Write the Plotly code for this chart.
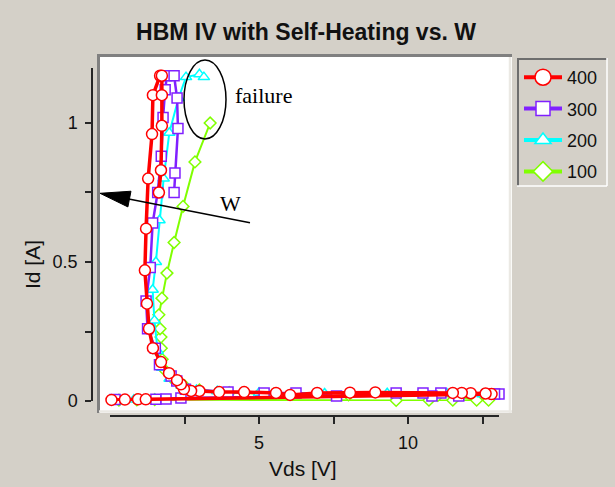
import plotly.graph_objects as go

# ---------------- data ----------------
V_400 = [0.05, 0.5, 0.94, 1.2, 12.8, 12.6, 12.1, 11.8, 11.5, 8.9, 8.05, 6.95, 6.04, 5.57,
         4.5, 3.66, 3.0, 2.72, 2.48, 2.38, 2.25, 1.98, 1.71, 1.44, 1.31, 1.24, 1.17, 1.21,
         1.28, 1.41, 1.44, 1.68, 1.74, 1.74, 1.74, 1.71, 1.64]
I_400 = [0.004, 0.005, 0.006, 0.006, 0.025, 0.027, 0.028, 0.029, 0.029, 0.031, 0.030, 0.029,
         0.022, 0.029, 0.032, 0.032, 0.036, 0.036, 0.043, 0.06, 0.075, 0.10, 0.14, 0.19, 0.26,
         0.35, 0.47, 0.62, 0.80, 0.96, 1.10, 1.17, 1.17, 1.10, 0.99, 0.83, 0.75]

V_300 = [0.17, 1.54, 1.88, 2.38, 13.05, 12.9, 11.7, 11.1, 10.8, 10.5, 9.6, 7.6, 6.24, 5.17,
         3.96, 2.53, 2.24, 2.05, 1.66, 1.52, 1.26, 1.21, 1.35, 1.43, 1.6, 1.72, 1.78, 1.85,
         1.91, 2.15, 2.25, 2.28, 2.18, 2.15]
I_300 = [0.005, 0.006, 0.007, 0.011, 0.025, 0.025, 0.018, 0.029, 0.018, 0.029, 0.029, 0.018,
         0.029, 0.029, 0.032, 0.042, 0.072, 0.09, 0.13, 0.19, 0.26, 0.36, 0.48, 0.64, 0.75,
         0.88, 1.02, 1.12, 1.17, 1.17, 1.09, 0.98, 0.82, 0.75]

V_200 = [0.2, 0.8, 1.5, 12.5, 11.3, 9.3, 7.2, 5.0, 3.6, 2.9, 2.4, 2.0, 1.75, 1.6, 1.49,
         1.43, 1.54, 1.66, 1.8, 1.99, 2.3, 2.55, 3.0, 3.15]
I_200 = [0.004, 0.005, 0.006, 0.024, 0.027, 0.028, 0.027, 0.030, 0.035, 0.040, 0.055, 0.08,
         0.12, 0.18, 0.29, 0.40, 0.50, 0.65, 0.80, 0.965, 1.09, 1.165, 1.175, 1.165]

V_100 = [0.3, 0.9, 1.5, 9.6, 10.7, 11.5, 12.3, 12.7, 11.0, 8.0, 5.5, 4.0, 3.0, 2.5, 2.1,
         1.85, 1.75, 1.72, 1.71, 1.68, 1.64, 1.74, 1.91, 2.15, 2.45, 2.85, 3.36]
I_100 = [0.003, 0.004, 0.005, 0.002, 0.003, 0.003, 0.003, 0.003, 0.02, 0.022, 0.025, 0.03,
         0.04, 0.055, 0.08, 0.11, 0.15, 0.19, 0.23, 0.26, 0.31, 0.37, 0.46, 0.57, 0.70,
         0.86, 1.00]

NAMES = ["100", "200", "300", "400"]
X_TICKS = [2.5, 5, 7.5, 10, 12.5]
X_TICKTEXT = ["", "5", "", "10", ""]
Y_TICKS = [0, 0.25, 0.5, 0.75, 1]
Y_TICKTEXT = ["0", "", "0.5", "", "1"]

# ---------------- layout geometry ----------------
W, H = 615, 487
L, R, T, B = 92, 103, 54, 71
PW = W - L - R
PH = H - T - B
BG = "#d4d0c8"


def fx(px):
    return (px - L) / PW


def fy(py):
    return (H - B - py) / PH


styles = {
    "400": dict(color="#ff0000", width=3.5, symbol="circle", size=11, lsize=16, rank=1),
    "300": dict(color="#8020ff", width=2.5, symbol="square", size=10, lsize=14, rank=2),
    "200": dict(color="#00ffff", width=2, symbol="triangle-up", size=10, lsize=14, rank=3),
    "100": dict(color="#80ff00", width=2, symbol="diamond", size=9, lsize=15, rank=4),
}
series = {"100": (V_100, I_100), "200": (V_200, I_200),
          "300": (V_300, I_300), "400": (V_400, I_400)}

fig = go.Figure()
for name in NAMES:
    vx, iy = series[name]
    s = styles[name]
    fig.add_trace(go.Scatter(
        x=vx, y=iy, name=name, mode="lines+markers", legendgroup=name,
        showlegend=False,
        line=dict(color=s["color"], width=s["width"]),
        marker=dict(symbol=s["symbol"], size=s["size"], color="white",
                    line=dict(color=s["color"], width=1.5)),
        cliponaxis=False, hoverinfo="skip"))
# legend entries (larger symbols, as in the original legend)
for name in NAMES:
    s = styles[name]
    fig.add_trace(go.Scatter(
        x=[None], y=[None], name=name, mode="lines+markers", legendgroup=name,
        legendrank=s["rank"],
        line=dict(color=s["color"], width=4),
        marker=dict(symbol=s["symbol"], size=s["lsize"], color="white",
                    line=dict(color=s["color"], width=1.5)),
        hoverinfo="skip"))

shapes = []
# white plot box with 3D inset border
shapes.append(dict(type="rect", xref="paper", yref="paper", x0=fx(97), x1=fx(512),
                   y0=fy(413), y1=fy(54), fillcolor="white", line=dict(width=0), layer="below"))
shapes.append(dict(type="line", xref="paper", yref="paper", x0=fx(97), x1=fx(512),
                   y0=fy(55.5), y1=fy(55.5), line=dict(color="#808080", width=3), layer="below"))
shapes.append(dict(type="line", xref="paper", yref="paper", x0=fx(98.5), x1=fx(98.5),
                   y0=fy(54), y1=fy(413), line=dict(color="#808080", width=3), layer="below"))
shapes.append(dict(type="line", xref="paper", yref="paper", x0=fx(99), x1=fx(512),
                   y0=fy(411.5), y1=fy(411.5), line=dict(color="#ebe9e4", width=2.5), layer="below"))
shapes.append(dict(type="line", xref="paper", yref="paper", x0=fx(510), x1=fx(510),
                   y0=fy(57), y1=fy(413), line=dict(color="#ebe9e4", width=2.5), layer="below"))
# legend frame
shapes.append(dict(type="line", xref="paper", yref="paper", x0=fx(517), x1=fx(607),
                   y0=fy(59), y1=fy(59), line=dict(color="#6e6e6e", width=2), layer="below"))
shapes.append(dict(type="line", xref="paper", yref="paper", x0=fx(518), x1=fx(518),
                   y0=fy(58), y1=fy(186), line=dict(color="#6e6e6e", width=2), layer="below"))
shapes.append(dict(type="line", xref="paper", yref="paper", x0=fx(517), x1=fx(607),
                   y0=fy(186), y1=fy(186), line=dict(color="#ffffff", width=1.5), layer="below"))
shapes.append(dict(type="line", xref="paper", yref="paper", x0=fx(607), x1=fx(607),
                   y0=fy(58), y1=fy(186), line=dict(color="#ffffff", width=1.5), layer="below"))
# failure ellipse
shapes.append(dict(type="circle", xref="paper", yref="paper", x0=fx(184), x1=fx(226),
                   y0=fy(139), y1=fy(60), line=dict(color="black", width=1.5)))
# W arrow: shaft and head
tip = (100, 193.3)
tail = (250, 222.7)
dx, dy = tail[0] - tip[0], tail[1] - tip[1]
ln = (dx * dx + dy * dy) ** 0.5
ux, uy = dx / ln, dy / ln
nx, ny = -uy, ux
bx, by = tip[0] + 30 * ux, tip[1] + 30 * uy
c1 = (bx + 8 * nx, by + 8 * ny)
c2 = (bx - 8 * nx, by - 8 * ny)
shapes.append(dict(type="line", xref="paper", yref="paper", x0=fx(bx - 2 * ux), y0=fy(by - 2 * uy),
                   x1=fx(tail[0]), y1=fy(tail[1]), line=dict(color="black", width=1.5)))
path = "M{},{} L{},{} L{},{} Z".format(fx(tip[0]), fy(tip[1]), fx(c1[0]), fy(c1[1]),
                                        fx(c2[0]), fy(c2[1]))
shapes.append(dict(type="path", xref="paper", yref="paper", path=path,
                   fillcolor="black", line=dict(color="black", width=1)))

annotations = [
    dict(text="failure", xref="paper", yref="paper", x=fx(263.5), y=fy(95),
         xanchor="center", yanchor="middle", showarrow=False,
         font=dict(family="Liberation Serif", size=22, color="black")),
    dict(text="W", xref="paper", yref="paper", x=fx(230.5), y=fy(203),
         xanchor="center", yanchor="middle", showarrow=False,
         font=dict(family="Liberation Serif", size=22, color="black")),
    dict(text="Vds [V]", xref="paper", yref="paper", x=fx(303), y=fy(468),
         xanchor="center", yanchor="middle", showarrow=False,
         font=dict(family="Liberation Sans", size=21, color="#111111")),
    dict(text="Id [A]", xref="paper", yref="paper", x=fx(32), y=fy(265),
         xanchor="center", yanchor="middle", showarrow=False,
         textangle=-90, font=dict(family="Liberation Sans", size=21, color="#111111")),
]

fig.update_layout(
    width=W, height=H,
    margin=dict(l=L, r=R, t=T, b=B),
    paper_bgcolor=BG, plot_bgcolor="rgba(0,0,0,0)",
    title=dict(text="<b>HBM IV with Self-Heating vs. W</b>", x=306 / W, xref="container",
               xanchor="center", y=1 - 32 / H, yref="container", yanchor="middle",
               font=dict(family="Liberation Sans", size=23, color="#111111")),
    xaxis=dict(domain=[fx(110), fx(499)], range=[0, 13.05], anchor="free", position=0,
               showline=True, linecolor="#262626", linewidth=1.5, ticks="outside", ticklen=7,
               tickwidth=1.5, tickcolor="#262626", tickvals=X_TICKS, ticktext=X_TICKTEXT,
               tickfont=dict(family="Liberation Sans", size=18, color="#111111"),
               ticklabelstandoff=4, showgrid=False, zeroline=False, fixedrange=True),
    yaxis=dict(domain=[fy(401), fy(68)], range=[0, 1.1978], anchor="free", position=0,
               showline=True, linecolor="#262626", linewidth=1.5, ticks="outside", ticklen=6,
               tickwidth=1.5, tickcolor="#262626", tickvals=Y_TICKS, ticktext=Y_TICKTEXT,
               tickfont=dict(family="Liberation Sans", size=18, color="#111111"),
               ticklabelstandoff=4, showgrid=False, zeroline=False, fixedrange=True),
    legend=dict(x=fx(519), y=fy(59), xanchor="left", yanchor="top",
                bgcolor="rgba(0,0,0,0)", borderwidth=0, itemwidth=38,
                traceorder="grouped", tracegroupgap=5,
                font=dict(family="Liberation Sans", size=18, color="#111111")),
    shapes=shapes, annotations=annotations, showlegend=True,
)

fig.write_html("out.html")
